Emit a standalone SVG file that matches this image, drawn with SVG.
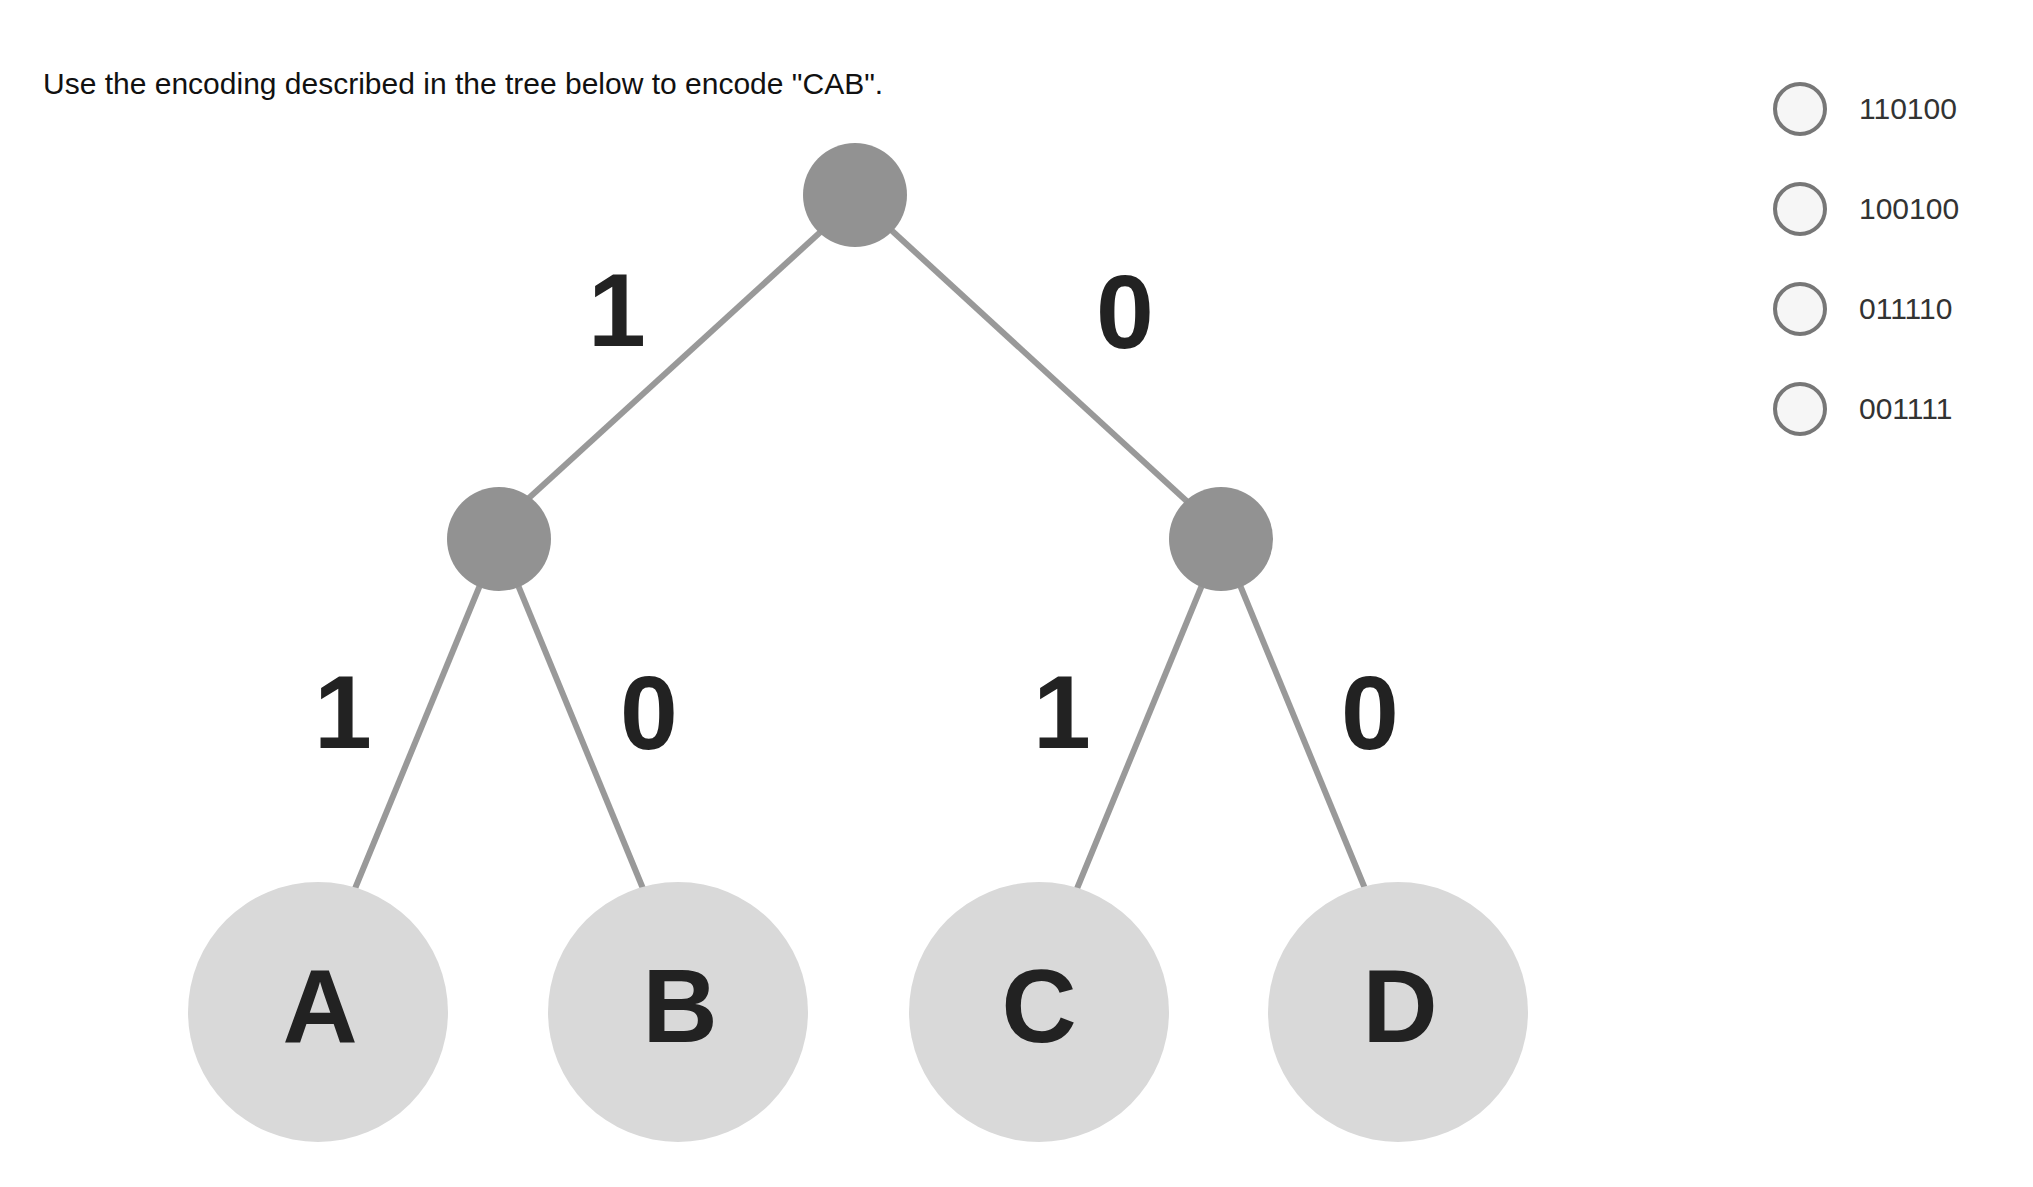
<svg xmlns="http://www.w3.org/2000/svg" width="2033" height="1187" viewBox="0 0 2033 1187">
  <style>
    .title { font-family: "Liberation Sans", Arial, sans-serif; font-size: 30px; fill: #111; }
    .opt { font-family: "Liberation Sans", Arial, sans-serif; font-size: 30px; fill: #333; }
    .radio { fill: #f6f6f6; stroke: #777; stroke-width: 4; }
    .edge { stroke: #999; stroke-width: 6; fill: none; }
    .inner { fill: #929292; }
    .leaf { fill: #d9d9d9; }
    .lbl { font-family: "Liberation Sans", Arial, sans-serif; font-weight: bold; font-size: 104px; fill: #222; text-anchor: middle; }
  </style>
  <rect width="2033" height="1187" fill="#ffffff"/>
  <text class="title" x="43" y="94">Use the encoding described in the tree below to encode "CAB".</text>

  <g id="options">
    <g id="opt1"><circle class="radio" cx="1800" cy="109" r="25"/><text class="opt" x="1859" y="119">110100</text></g>
    <g id="opt2"><circle class="radio" cx="1800" cy="209" r="25"/><text class="opt" x="1859" y="219">100100</text></g>
    <g id="opt3"><circle class="radio" cx="1800" cy="309" r="25"/><text class="opt" x="1859" y="319">011110</text></g>
    <g id="opt4"><circle class="radio" cx="1800" cy="409" r="25"/><text class="opt" x="1859" y="419">001111</text></g>
  </g>

  <g id="connectors">
    <line class="edge" x1="861" y1="195" x2="484" y2="539"/>
    <line class="edge" x1="853" y1="195" x2="1228" y2="539"/>
    <line class="edge" x1="499" y1="539" x2="340" y2="925"/>
    <line class="edge" x1="499" y1="539" x2="658" y2="925"/>
    <line class="edge" x1="1221" y1="539" x2="1062" y2="925"/>
    <line class="edge" x1="1221" y1="539" x2="1380" y2="925"/>
  </g>

  <g id="edge-labels">
    <text class="lbl" x="617" y="346">1</text>
    <text class="lbl" x="1125" y="348">0</text>
    <text class="lbl" x="343" y="748">1</text>
    <text class="lbl" x="649" y="749">0</text>
    <text class="lbl" x="1062" y="748">1</text>
    <text class="lbl" x="1370" y="749">0</text>
  </g>

  <g id="root"><circle class="inner" cx="855" cy="195" r="52"/></g>
  <g id="left"><circle class="inner" cx="499" cy="539" r="52"/></g>
  <g id="right"><circle class="inner" cx="1221" cy="539" r="52"/></g>

  <g id="leafA"><circle class="leaf" cx="318" cy="1012" r="130"/><text class="lbl" x="320" y="1042">A</text></g>
  <g id="leafB"><circle class="leaf" cx="678" cy="1012" r="130"/><text class="lbl" x="680" y="1042">B</text></g>
  <g id="leafC"><circle class="leaf" cx="1039" cy="1012" r="130"/><text class="lbl" x="1039" y="1042">C</text></g>
  <g id="leafD"><circle class="leaf" cx="1398" cy="1012" r="130"/><text class="lbl" x="1400" y="1042">D</text></g>
</svg>
